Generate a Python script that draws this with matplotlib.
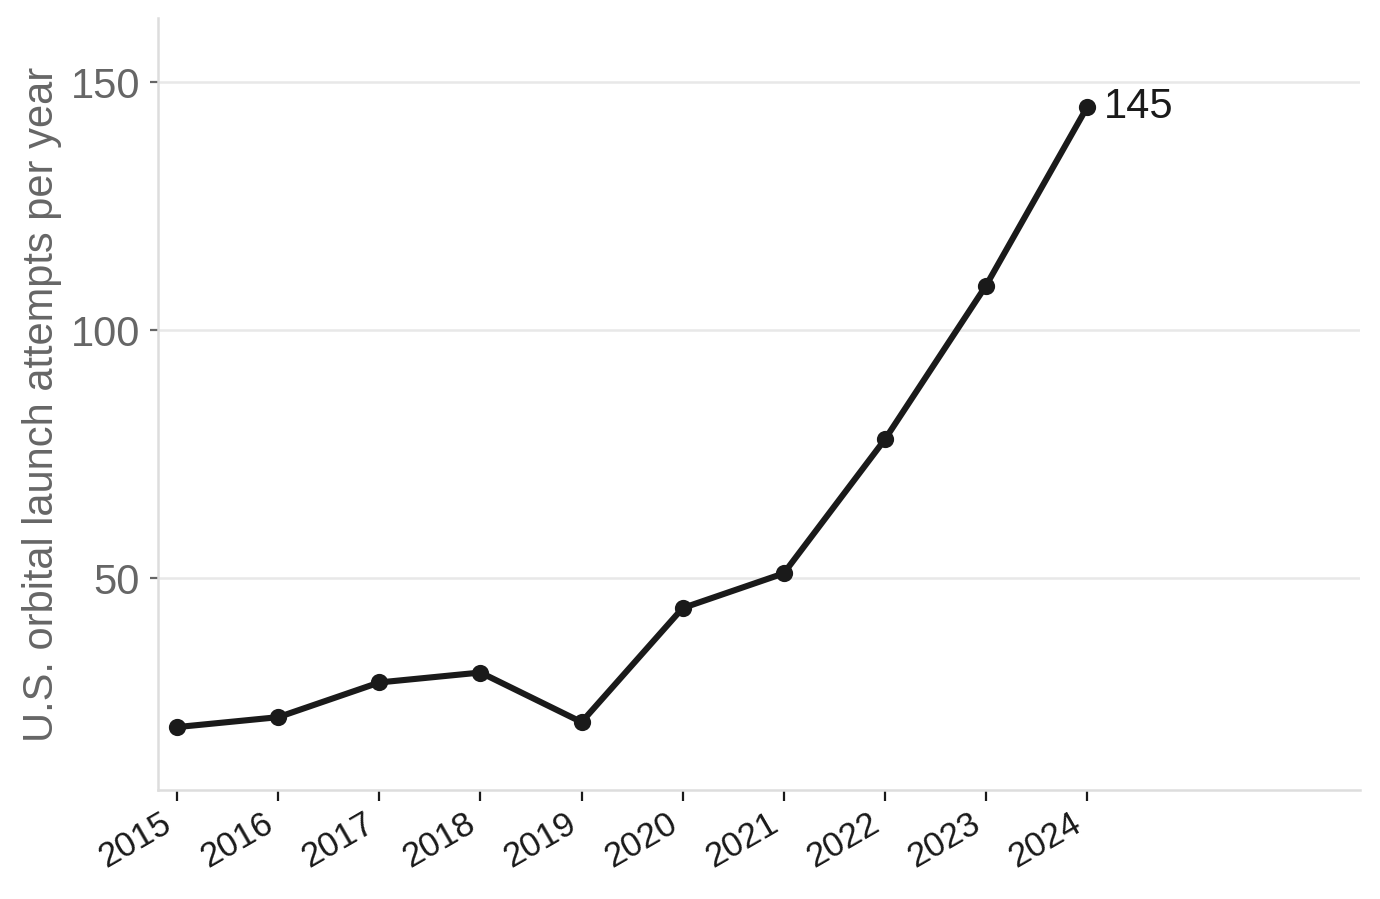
import matplotlib.pyplot as plt

years = [2015, 2016, 2017, 2018, 2019, 2020, 2021, 2022, 2023, 2024]
launches = [20, 22, 29, 31, 21, 44, 51, 78, 109, 145]
ytick_values = [50, 100, 150]

plt.rcParams["font.family"] = ["Liberation Sans", "DejaVu Sans"]

fig = plt.figure(figsize=(6.9, 4.495), dpi=200)
ax = fig.add_axes([0.1145, 0.1212, 0.871, 0.8588])

ax.plot(years, launches, color="#1a1a1a", linewidth=2.2, marker="o",
        markersize=5.2, zorder=3)

# label the last point
ax.annotate(str(launches[-1]), (years[-1], launches[-1]),
            xytext=(6, 0), textcoords="offset points",
            ha="left", va="center", fontsize=15, color="#1a1a1a")

ax.set_xlim(2014.81, 2026.7)
ax.set_ylim(7.3, 163)
ax.set_xticks(years)
ax.set_xticklabels([str(y) for y in years], rotation=30, ha="right",
                   fontsize=12.5, color="#1a1a1a")
ax.set_yticks(ytick_values)
ax.tick_params(axis="y", labelsize=15, colors="#666666", length=3, width=0.8)
ax.tick_params(axis="x", length=4, width=0.8, color="#1a1a1a", pad=2)
for lbl in ax.get_yticklabels():
    lbl.set_color("#666666")

ax.set_ylabel("U.S. orbital launch attempts per year", fontsize=15,
              color="#666666", labelpad=3)

ax.grid(axis="y", color="#e8e8e8", linewidth=0.9)
ax.set_axisbelow(True)
for side in ["top", "right"]:
    ax.spines[side].set_visible(False)
for side in ["left", "bottom"]:
    ax.spines[side].set_color("#dddddd")
    ax.spines[side].set_linewidth(0.9)

fig.savefig("out.png", dpi=200)
